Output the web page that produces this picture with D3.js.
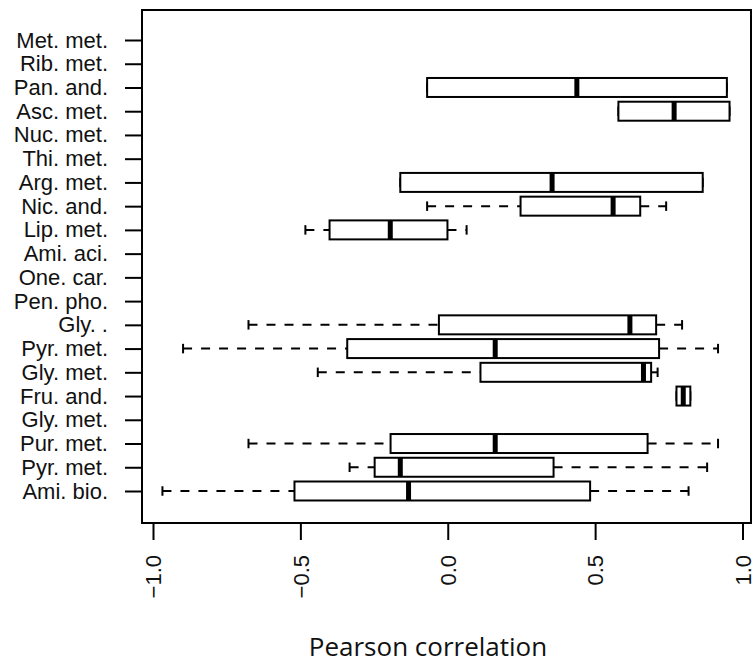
<!DOCTYPE html>
<html>
<head>
<meta charset="utf-8">
<script src="https://cdn.jsdelivr.net/npm/d3@7"></script>
<style>
  body { margin: 0; background: #fff; }
  svg { display: block; }
</style>
</head>
<body>
<script>
var width = 755, height = 664;

// pathways, top to bottom
var categories = ["Met. met.", "Rib. met.", "Pan. and.", "Asc. met.", "Nuc. met.",
    "Thi. met.", "Arg. met.", "Nic. and.", "Lip. met.", "Ami. aci.",
    "One. car.", "Pen. pho.", "Gly. .", "Pyr. met.", "Gly. met.",
    "Fru. and.", "Gly. met.", "Pur. met.", "Pyr. met.", "Ami. bio."];

// five-number summaries (null = no data)
var whiskerLow  = [null, null, -0.070, 0.579, null, null, -0.161, -0.070, -0.483, null,
    null, null, -0.676, -0.898, -0.441, 0.776, null, -0.676, -0.333, -0.968];
var q1          = [null, null, -0.070, 0.579, null, null, -0.161, 0.247, -0.401, null,
    null, null, -0.030, -0.341, 0.111, 0.776, null, -0.194, -0.248, -0.520];
var median      = [null, null, 0.438, 0.768, null, null, 0.354, 0.561, -0.195, null,
    null, null, 0.618, 0.161, 0.664, 0.799, null, 0.161, -0.161, -0.133];
var q3          = [null, null, 0.947, 0.956, null, null, 0.865, 0.653, -0.001, null,
    null, null, 0.707, 0.717, 0.690, 0.823, null, 0.678, 0.359, 0.483];
var whiskerHigh = [null, null, 0.947, 0.956, null, null, 0.865, 0.741, 0.064, null,
    null, null, 0.795, 0.917, 0.712, 0.823, null, 0.917, 0.880, 0.817];

var xTicks = [-1, -0.5, 0, 0.5, 1];

var frame = {left: 142, right: 751, top: 10, bottom: 523};

var x = d3.scaleLinear().domain([-1, 1]).range([153, 742.5]);
var y = d3.scaleLinear().domain([0, categories.length - 1]).range([40, 491]);
var step = y(1) - y(0);
var half = step * 0.4;

var svg = d3.select("body").append("svg")
    .attr("width", width)
    .attr("height", height);

svg.append("rect")
    .attr("width", width)
    .attr("height", height)
    .style("fill", "white");

var rows = d3.range(categories.length).filter(function(i){ return median[i] !== null; });

var g = svg.append("g");

// whiskers
g.selectAll(".wlo").data(rows).enter().append("line")
    .attr("x1", function(i){ return x(whiskerLow[i]); })
    .attr("x2", function(i){ return x(q1[i]); })
    .attr("y1", function(i){ return y(i); })
    .attr("y2", function(i){ return y(i); })
    .style("stroke", "black").style("stroke-width", 2)
    .style("stroke-dasharray", "9,9");

g.selectAll(".whi").data(rows).enter().append("line")
    .attr("x1", function(i){ return x(q3[i]); })
    .attr("x2", function(i){ return x(whiskerHigh[i]); })
    .attr("y1", function(i){ return y(i); })
    .attr("y2", function(i){ return y(i); })
    .style("stroke", "black").style("stroke-width", 2)
    .style("stroke-dasharray", "9,9");

// staples
[whiskerLow, whiskerHigh].forEach(function(arr){
    g.selectAll(null).data(rows).enter().append("line")
        .attr("x1", function(i){ return x(arr[i]); })
        .attr("x2", function(i){ return x(arr[i]); })
        .attr("y1", function(i){ return y(i) - half / 2; })
        .attr("y2", function(i){ return y(i) + half / 2; })
        .style("stroke", "black").style("stroke-width", 2);
});

// boxes
g.selectAll(".box").data(rows).enter().append("rect")
    .attr("x", function(i){ return x(q1[i]); })
    .attr("width", function(i){ return x(q3[i]) - x(q1[i]); })
    .attr("y", function(i){ return y(i) - half; })
    .attr("height", half * 2)
    .style("fill", "white")
    .style("stroke", "black").style("stroke-width", 2);

// medians
g.selectAll(".med").data(rows).enter().append("line")
    .attr("x1", function(i){ return x(median[i]); })
    .attr("x2", function(i){ return x(median[i]); })
    .attr("y1", function(i){ return y(i) - half; })
    .attr("y2", function(i){ return y(i) + half; })
    .style("stroke", "black").style("stroke-width", 5);

// frame
svg.append("rect")
    .attr("x", frame.left)
    .attr("y", frame.top)
    .attr("width", frame.right - frame.left)
    .attr("height", frame.bottom - frame.top)
    .style("fill", "none")
    .style("stroke", "black").style("stroke-width", 2);

// y axis
var yAxis = svg.append("g")
    .attr("transform", "translate(" + frame.left + ",0)")
    .call(d3.axisLeft(y)
        .tickValues(d3.range(categories.length))
        .tickFormat(function(i){ return categories[i]; })
        .tickSize(17)
        .tickPadding(17));
yAxis.select(".domain").remove();
yAxis.selectAll(".tick line").style("stroke-width", 2);
yAxis.selectAll("text")
    .style("font-family", "'Liberation Sans', Arial, sans-serif")
    .style("font-size", "22px")
    .style("fill", "#111");

// x axis
var xAxis = svg.append("g")
    .attr("transform", "translate(0," + frame.bottom + ")")
    .call(d3.axisBottom(x)
        .tickValues(xTicks)
        .tickFormat(d3.format(".1f"))
        .tickSize(17));
xAxis.select(".domain").remove();
xAxis.selectAll(".tick line").style("stroke-width", 2);
xAxis.selectAll("text")
    .attr("transform", "rotate(-90)")
    .attr("x", -32)
    .attr("y", 0)
    .attr("dy", "0.35em")
    .style("text-anchor", "end")
    .style("font-family", "'Liberation Sans', Arial, sans-serif")
    .style("font-size", "22px")
    .style("fill", "#111");

// axis title
svg.append("text")
    .attr("x", 428)
    .attr("y", 656)
    .style("text-anchor", "middle")
    .style("font-family", "'Open Sans', sans-serif")
    .style("font-size", "26px")
    .style("fill", "#111")
    .text("Pearson correlation");
</script>
</body>
</html>
